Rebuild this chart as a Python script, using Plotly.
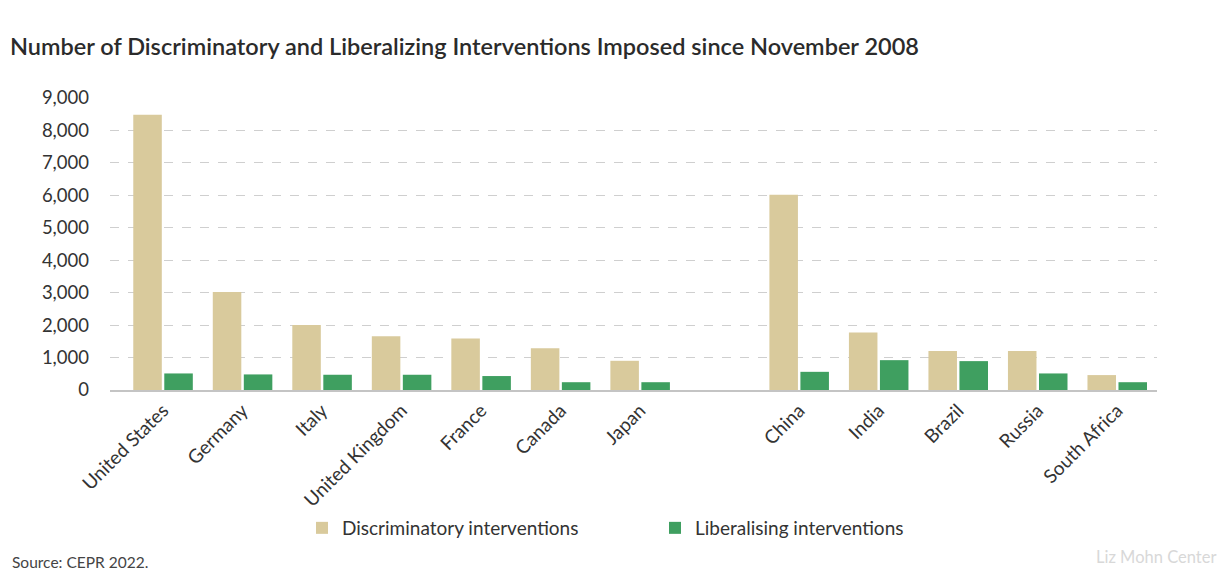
import plotly.graph_objects as go

# Countries: G7 group, a spacer slot, then BRICS group
countries = ["United States", "Germany", "Italy", "United Kingdom", "France", "Canada", "Japan",
             " ", "China", "India", "Brazil", "Russia", "South Africa"]
discriminatory = [8480, 3020, 2000, 1660, 1590, 1290, 900, None, 6020, 1770, 1200, 1200, 460]
liberalising = [510, 480, 470, 470, 430, 240, 240, None, 560, 920, 890, 510, 240]

y_ticks = [0, 1000, 2000, 3000, 4000, 5000, 6000, 7000, 8000, 9000]
y_tick_labels = ["0", "1,000", "2,000", "3,000", "4,000", "5,000", "6,000", "7,000", "8,000", "9,000"]

TAN = "#D9CA9C"
GREEN = "#3F9F60"
TEXT = "#333333"

fig = go.Figure()
fig.add_trace(go.Bar(x=countries, y=discriminatory, name="Discriminatory interventions",
                     marker=dict(color=TAN, line=dict(width=0))))
fig.add_trace(go.Bar(x=countries, y=liberalising, name="Liberalising interventions",
                     marker=dict(color=GREEN, line=dict(width=0))))

fig.update_layout(
    width=1228, height=587,
    margin=dict(l=110, r=71, t=98, b=197),
    paper_bgcolor="white", plot_bgcolor="white",
    barmode="group", bargap=0.22, bargroupgap=0.08,
    font=dict(family="Lato", color=TEXT, size=15),
    showlegend=True,
    legend=dict(orientation="h", x=(302 - 110) / 1047, xanchor="left",
                y=-(528 - 390) / 292, yanchor="middle",
                font=dict(size=19, color=TEXT), itemwidth=30, traceorder="normal",
                entrywidth=308),
    title=dict(text="Number of Discriminatory and Liberalizing Interventions Imposed since November 2008",
               x=10 / 1228, xanchor="left", y=1 - 47 / 587, yanchor="middle",
               font=dict(family="Lato", size=23.5, color="#2b2b2b", weight=600)),
)

fig.update_xaxes(
    type="category", range=[-0.667, 12.5],
    tickangle=-45, tickfont=dict(size=19, color=TEXT),
    showgrid=False, showline=True, linecolor="#c4c4c4", linewidth=2,
    ticks="", zeroline=False,
)
fig.update_yaxes(
    range=[0, 9000], tickvals=y_ticks, ticktext=y_tick_labels,
    tickfont=dict(size=18.5, color=TEXT), ticklabelstandoff=20,
    showgrid=True, gridcolor="#cfcfcf", griddash="dash", gridwidth=1,
    zeroline=False, showline=False, ticks="",
)

fig.add_annotation(text="Source: CEPR 2022.", xref="paper", yref="paper",
                   x=-100 / 1047, y=-(562 - 390) / 292, xanchor="left", yanchor="middle",
                   showarrow=False, font=dict(size=15.5, color="#444444"))
fig.add_annotation(text="Liz Mohn Center", xref="paper", yref="paper",
                   x=(1218 - 110) / 1047, y=-(557 - 390) / 292, xanchor="right", yanchor="middle",
                   showarrow=False, font=dict(size=16.5, color="#d8d8d8"))

fig.write_html("out.html")
